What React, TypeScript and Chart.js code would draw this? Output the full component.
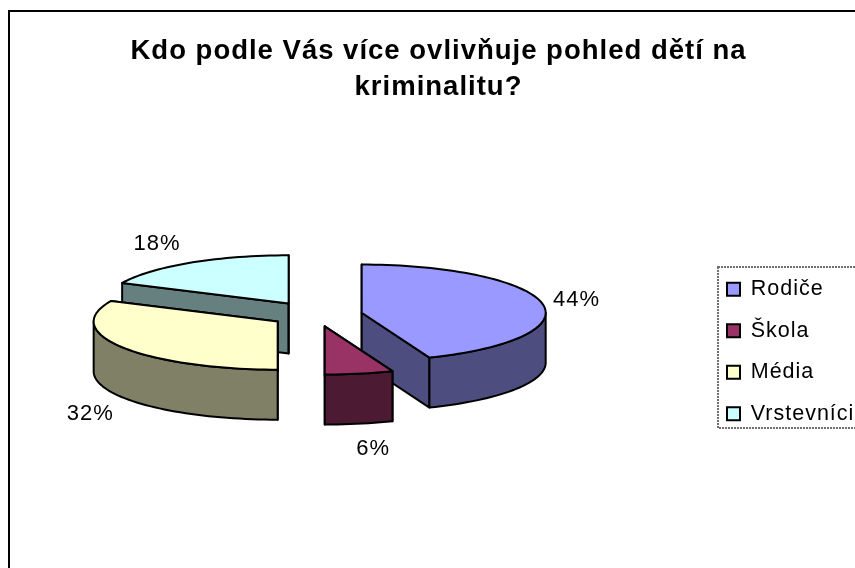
import React, { useEffect, useRef } from "react";
import { Chart, registerables } from "chart.js";

Chart.register(...registerables);

const titleLines = ["Kdo podle Vás více ovlivňuje pohled dětí na", "kriminalitu?"];
const categories = ["Rodiče", "Škola", "Média", "Vrstevníci"];
const shares = [44, 6, 32, 18];
const topColors = ["#9999FF", "#993366", "#FFFFCC", "#CCFFFF"];
const wallColors = ["#4D4D80", "#4D1A33", "#808066", "#668080"];

// layout of the tilted, exploded pie
const CENTER = { x: 316.5, y: 315 };
const RADIUS = 184;
const TILT = 0.262;
const DEPTH = 50;
const EXPLODE = [46, 44, 46, 52];
const WALL_ORDER = [3, 2, 0, 1];
const LABEL_NUDGE = [
  [34, -4],
  [14, 25],
  [-32, 17],
  [-33, -19],
];
const FONT = "Liberation Sans, Arial, sans-serif";

function pie3d(chart: any, args: any) {
  const ctx = chart.ctx;
  const arcs = args.meta.data;
  const geo = arcs.map((arc: any, i: number) => {
    const a1 = arc.startAngle + Math.PI / 2;
    const a2 = arc.endAngle + Math.PI / 2;
    const mid = (a1 + a2) / 2;
    const apex = {
      x: CENTER.x + EXPLODE[i] * Math.sin(mid),
      y: CENTER.y - EXPLODE[i] * Math.cos(mid) * TILT,
    };
    const at = (a: number) => ({
      x: apex.x + arc.outerRadius * Math.sin(a),
      y: apex.y - arc.outerRadius * TILT * Math.cos(a),
    });
    return { a1, a2, mid, apex, at };
  });

  ctx.save();
  ctx.lineJoin = "round";
  ctx.lineWidth = 2;
  ctx.strokeStyle = "#000";

  const poly = (pts: { x: number; y: number }[], fill?: string) => {
    ctx.beginPath();
    pts.forEach((p, k) => (k ? ctx.lineTo(p.x, p.y) : ctx.moveTo(p.x, p.y)));
    ctx.closePath();
    if (fill) {
      ctx.fillStyle = fill;
      ctx.fill();
    }
    ctx.stroke();
  };
  const down = (p: { x: number; y: number }) => ({ x: p.x, y: p.y + DEPTH });
  const sweep = (g: any, from: number, to: number) => {
    const n = Math.max(2, Math.ceil((to - from) / 0.035));
    const pts = [];
    for (let k = 0; k <= n; k++) pts.push(g.at(from + ((to - from) * k) / n));
    return pts;
  };

  // side walls, back to front
  WALL_ORDER.forEach((i) => {
    const g = geo[i];
    [g.a1, g.a2].forEach((a: number) => {
      const p = g.at(a);
      poly([g.apex, p, down(p), down(g.apex)], wallColors[i]);
    });
    const from = Math.max(g.a1, Math.PI / 2);
    const to = Math.min(g.a2, (3 * Math.PI) / 2);
    if (to > from) {
      const rim = sweep(g, from, to);
      poly([...rim, ...rim.map(down).reverse()], wallColors[i]);
    }
  });

  // top faces: the library's own arcs, squashed and moved into place
  arcs.forEach((arc: any, i: number) => {
    ctx.save();
    ctx.translate(geo[i].apex.x, geo[i].apex.y);
    ctx.scale(1, TILT);
    ctx.translate(-arc.x, -arc.y);
    arc.draw(ctx);
    ctx.restore();
  });
  geo.forEach((g: any) => poly([g.apex, ...sweep(g, g.a1, g.a2)]));

  // percentage labels
  ctx.fillStyle = "#000";
  ctx.font = `22px ${FONT}`;
  ctx.textAlign = "center";
  ctx.textBaseline = "middle";
  geo.forEach((g: any, i: number) => {
    const p = g.at(g.mid);
    ctx.fillText(`${shares[i]}%`, p.x + LABEL_NUDGE[i][0], p.y + LABEL_NUDGE[i][1] + (i === 1 || i === 2 ? DEPTH : 0));
  });
  ctx.restore();
  return false;
}

const framePlugin = {
  id: "frame",
  beforeInit(chart: any) {
    chart.ctx.letterSpacing = "1px";
  },
  afterLayout(chart: any) {
    const legend = chart.legend;
    legend.left = 707;
    legend.right = 860;
    legend.top = 258.5;
    legend.bottom = 520;
  },
  beforeDraw(chart: any) {
    const ctx = chart.ctx;
    ctx.letterSpacing = "1px";
    ctx.save();
    ctx.fillStyle = "#fff";
    ctx.fillRect(0, 0, chart.width, chart.height);
    ctx.strokeStyle = "#000";
    ctx.lineWidth = 2;
    ctx.strokeRect(9, 11, chart.width + 20, chart.height + 20);
    ctx.restore();
  },
  beforeDatasetDraw: pie3d,
  afterDraw(chart: any) {
    const ctx = chart.ctx;
    ctx.save();
    ctx.strokeStyle = "#707070";
    ctx.lineWidth = 2;
    ctx.setLineDash([2, 1]);
    ctx.strokeRect(718, 267, 140, 161);
    ctx.restore();
  },
};

export default function App() {
  const ref = useRef<HTMLCanvasElement>(null);
  useEffect(() => {
    const chart = new Chart(ref.current as any, {
      type: "pie",
      data: {
        labels: categories,
        datasets: [
          {
            data: shares,
            backgroundColor: topColors,
            borderWidth: 0,
            radius: RADIUS,
            clip: false,
          } as any,
        ],
      },
      plugins: [framePlugin],
      options: {
        responsive: false,
        animation: false,
        layout: { padding: { left: 22, top: 33 } },
        plugins: {
          tooltip: { enabled: false },
          title: {
            display: true,
            text: titleLines,
            color: "#000",
            padding: 0,
            font: { family: FONT, size: 27.5, weight: "bold", lineHeight: 1.31 },
          },
          legend: {
            position: "right",
            align: "start",
            labels: {
              color: "#000",
              boxWidth: 13,
              boxHeight: 13,
              padding: 20,
              font: { family: FONT, size: 21.5 },
              generateLabels: () =>
                categories.map((text, i) => ({
                  text,
                  fillStyle: topColors[i],
                  strokeStyle: "#000",
                  lineWidth: 2,
                  index: i,
                })),
            },
          },
        },
      },
    } as any);
    return () => chart.destroy();
  }, []);
  return (
    <div style={{ position: "absolute", left: 0, top: 0, width: 855, height: 568, overflow: "hidden" }}>
      <canvas ref={ref} width={855} height={568} style={{ display: "block" }} />
    </div>
  );
}
